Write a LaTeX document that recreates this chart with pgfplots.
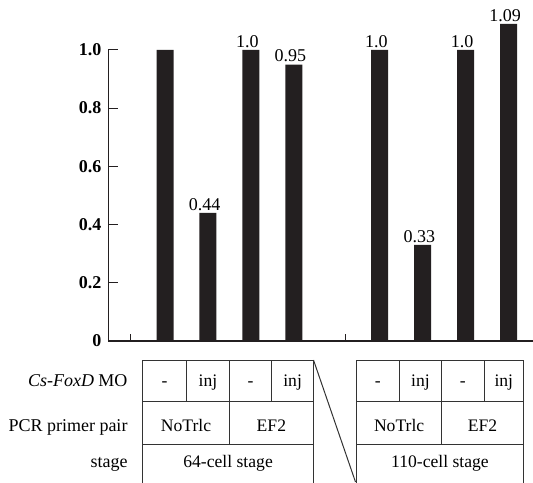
\documentclass[border=0pt]{standalone}
\usepackage{fontspec}
\setmainfont{Liberation Serif}
\usepackage{pgfplots}
\pgfplotsset{compat=1.18}
\usepackage{pgfplotstable}
\definecolor{barc}{HTML}{231F20}
\definecolor{linec}{HTML}{333333}
\pgfplotstableread{
x y label
0 1.0 {}
1 0.44 0.44
2 1.0 1.0
3 0.95 0.95
5 1.0 1.0
6 0.33 0.33
7 1.0 1.0
8 1.09 1.09
}\datatable
\begin{document}
\begin{tikzpicture}
\begin{axis}[
  at={(0,0)}, anchor=origin,
  x=21.47pt, y=145.35pt,
  xmin=-1.316, xmax=8.6, ymin=0, ymax=1,
  clip=false,
  axis lines*=left,
  x axis line style={line width=1.15pt, draw=barc},
  y axis line style={line width=0.5pt, draw=barc},
  tick align=inside,
  xtick align=inside,
  major tick length=5pt,
  tick style={line width=0.5pt, draw=barc},
  ytick={0,0.2,0.4,0.6,0.8,1.0},
  yticklabels={\textbf{0},\textbf{0.2},\textbf{0.4},\textbf{0.6},\textbf{0.8},\textbf{1.0}},
  yticklabel style={font=\fontsize{9}{10}\selectfont},
  xtick=\empty,
  extra x ticks={-0.803,4.208},
  extra x tick labels={},
  extra x tick style={major tick length=3.5pt, tick align=inside, xtick align=inside},
  ybar, bar width=8.5pt,
  nodes near coords,
  point meta=explicit symbolic,
  every node near coord/.append style={font=\fontsize{9}{10}\selectfont, anchor=south, inner sep=0pt, yshift=1pt, xshift=-1.7pt},
]
\addplot[fill=barc, draw=none] table[x=x, y=y, meta=label] {\datatable};
\end{axis}
\begin{scope}[x=0.5pt, y=-0.5pt, shift={(-82.5pt,170.35pt)}, line width=0.5pt]
  \draw[linec] (142.7,360) -- (313.5,360);
  \draw[linec] (356.5,360) -- (523.5,360);
  \draw[linec] (142.7,401.8) -- (313.5,401.8);
  \draw[linec] (356.5,401.8) -- (523.5,401.8);
  \draw[linec] (142.7,444.5) -- (313.5,444.5);
  \draw[linec] (356.5,444.5) -- (523.5,444.5);
  \foreach \xx in {142.7,313.5,356.5,523.5} {\draw[linec] (\xx,360) -- (\xx,495);}
  \foreach \xx in {186.5,229.3,271.7,399.3,441.7,484} {\draw[linec] (\xx,360) -- (\xx,401.8);}
  \foreach \xx in {229.3,441.7} {\draw[linec] (\xx,401.8) -- (\xx,444.5);}
  \draw[linec] (313.5,360) -- (355.5,482);
  \begin{scope}[every node/.style={font=\fontsize{8.8}{10}\selectfont, inner sep=0pt, anchor=base}]
    \node at (164.6,386.5) {-};
    \node at (207.9,386.5) {inj};
    \node at (250.5,386.5) {-};
    \node at (292.6,386.5) {inj};
    \node at (377.9,386.5) {-};
    \node at (420.5,386.5) {inj};
    \node at (462.9,386.5) {-};
    \node at (503.8,386.5) {inj};
    \node at (186.0,431) {NoTrlc};
    \node at (271.4,431) {EF2};
    \node at (399.1,431) {NoTrlc};
    \node at (482.6,431) {EF2};
    \node at (228.1,467) {64-cell stage};
    \node at (440.0,467) {110-cell stage};
  \end{scope}
  \begin{scope}[every node/.style={font=\fontsize{9}{10}\selectfont, inner sep=0pt, anchor=base east}]
    \node at (128,386.5) {\textit{Cs-FoxD} MO};
    \node at (128,431) {PCR primer pair};
    \node at (128,467) {stage};
  \end{scope}
\end{scope}
\pgfresetboundingbox
\useasboundingbox (-82.5pt,170.35pt) rectangle (184pt,-70.65pt);
\end{tikzpicture}
\end{document}
